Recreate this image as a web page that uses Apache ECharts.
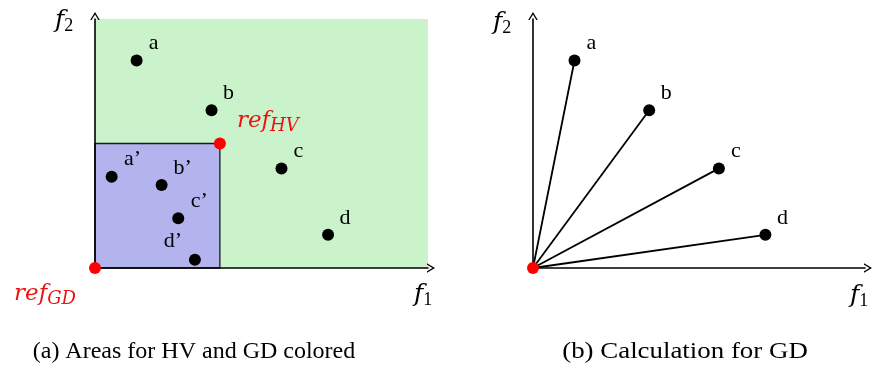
<!DOCTYPE html>
<html>
<head>
<meta charset="utf-8">
<script src="https://cdn.jsdelivr.net/npm/echarts@6/dist/echarts.min.js"></script>
<style>
  html, body { margin: 0; padding: 0; background: #fff; }
  #chart { width: 875px; height: 369px; }
</style>
</head>
<body>
<div id="chart"></div>
<script>
// objective space points (same set used in both panels)
const pointNames = ['a', 'b', 'c', 'd']
const pointX = [1.25, 3.5, 5.6, 7.0]
const pointY = [6.25, 4.75, 3.0, 1.0]

// points dominating the HV reference
const primeNames = ['a’', 'b’', 'c’', 'd’']
const primeX = [0.5, 2.0, 2.5, 3.0]
const primeY = [2.75, 2.5, 1.5, 0.25]

const refHV = [3.75, 3.75]
const refGD = [0, 0]
const axisMax = [10, 7.5]

const captions = ['(a) Areas for HV and GD colored', '(b) Calculation for GD']

const serif = '"Liberation Serif", "DejaVu Serif", serif'
const mathFont = '"DejaVu Serif", serif'
// open arrow head like tikz "->"
const chevron = 'path://M0,10 L6,0 L12,10 L10.2,10 L6,3.2 L1.8,10 Z'

const chart = echarts.init(document.getElementById('chart'), null, { renderer: 'canvas' })

const axisBase = (gridIndex, max) => ({
  type: 'value',
  gridIndex,
  min: 0,
  max,
  z: 4,
  axisLine: {
    show: true,
    symbol: ['none', chevron],
    symbolSize: [12, 8],
    symbolOffset: [0, 3],
    lineStyle: { color: '#000', width: 1.6 }
  },
  axisTick: { show: false },
  axisLabel: { show: false },
  splitLine: { show: false }
})

const fRich = {
  i: { fontFamily: mathFont, fontStyle: 'italic', fontSize: 25, color: '#000', lineHeight: 30, verticalAlign: 'middle' },
  s: { fontFamily: serif, fontSize: 18, color: '#000', lineHeight: 18, verticalAlign: 'bottom' }
}
const refRich = {
  i: { fontFamily: mathFont, fontStyle: 'italic', fontSize: 23, color: '#ee1111', lineHeight: 28, verticalAlign: 'middle' },
  s: { fontFamily: mathFont, fontStyle: 'italic', fontSize: 18, color: '#ee1111', lineHeight: 16, verticalAlign: 'bottom' }
}

const dotLabel = (offset) => ({
  show: true,
  position: 'inside',
  offset,
  formatter: '{b}',
  fontFamily: serif,
  fontSize: 22,
  color: '#000'
})

const dotStyle = { color: '#000', opacity: 1 }
const redStyle = { color: '#ff0000', opacity: 1 }

const mainPoints = pointNames.map((n, i) => ({ name: n, value: [pointX[i], pointY[i]] }))
const primePoints = primeNames.map((n, i) => ({
  name: n,
  value: [primeX[i], primeY[i]],
  label: i === 3 ? { offset: [-22, -18] } : undefined
}))

const series = [
  // panel (a): areas
  {
    type: 'scatter',
    xAxisIndex: 0,
    yAxisIndex: 0,
    data: [],
    silent: true,
    markArea: {
      silent: true,
      data: [
        [{ coord: [0, 0], itemStyle: { color: '#caf2cb', borderWidth: 0, opacity: 1 } }, { coord: axisMax }],
        [{ coord: refGD, itemStyle: { color: '#b3b3ee', borderColor: '#1a1a1a', borderWidth: 1.3, opacity: 1 } }, { coord: refHV }]
      ]
    }
  },
  {
    type: 'scatter',
    xAxisIndex: 0,
    yAxisIndex: 0,
    symbolSize: 12,
    itemStyle: dotStyle,
    label: dotLabel([17, -17]),
    data: mainPoints,
    z: 5
  },
  {
    type: 'scatter',
    xAxisIndex: 0,
    yAxisIndex: 0,
    symbolSize: 12,
    itemStyle: dotStyle,
    label: dotLabel([21, -17]),
    data: primePoints,
    z: 5
  },
  {
    type: 'scatter',
    xAxisIndex: 0,
    yAxisIndex: 0,
    symbolSize: 12,
    itemStyle: redStyle,
    data: [
      { value: refHV, label: { show: true, position: 'inside', offset: [48, -22], formatter: '{i|ref}{s|HV}', rich: refRich } },
      { value: refGD, label: { show: true, position: 'inside', offset: [-50, 26], formatter: '{i|ref}{s|GD}', rich: refRich } }
    ],
    z: 6
  }
]

// panel (b): segments from the origin to each point
pointNames.forEach((n, i) => {
  series.push({
    type: 'line',
    xAxisIndex: 1,
    yAxisIndex: 1,
    symbol: 'none',
    lineStyle: { color: '#000', width: 1.8 },
    data: [refGD, [pointX[i], pointY[i]]],
    silent: true,
    z: 3
  })
})
series.push({
  type: 'scatter',
  xAxisIndex: 1,
  yAxisIndex: 1,
  symbolSize: 12,
  itemStyle: dotStyle,
  label: dotLabel([17, -17]),
  data: mainPoints.map(p => ({ name: p.name, value: p.value })),
  z: 5
})
series.push({
  type: 'scatter',
  xAxisIndex: 1,
  yAxisIndex: 1,
  symbolSize: 12,
  itemStyle: redStyle,
  data: [refGD],
  z: 6
})

const option = {
  animation: false,
  grid: [
    { left: 95, top: 19, width: 333, height: 249 },
    { left: 533, top: 19, width: 332, height: 249 }
  ],
  xAxis: [axisBase(0, axisMax[0]), axisBase(1, axisMax[0])],
  yAxis: [axisBase(0, axisMax[1]), axisBase(1, axisMax[1])],
  graphic: [
    { type: 'text', left: 55, top: 8, style: { text: '{i|f}{s|2}', rich: fRich } },
    { type: 'text', left: 414, top: 282, style: { text: '{i|f}{s|1}', rich: fRich } },
    { type: 'text', left: 493, top: 10, style: { text: '{i|f}{s|2}', rich: fRich } },
    { type: 'text', left: 850, top: 283, style: { text: '{i|f}{s|1}', rich: fRich } },
    { type: 'text', x: 194, y: 352, style: { text: captions[0], fontFamily: serif, fontSize: 24, fill: '#000', align: 'center', verticalAlign: 'middle' } },
    { type: 'text', x: 685, y: 352, scaleX: 1.12, originX: 0, style: { text: captions[1], fontFamily: serif, fontSize: 24, fill: '#000', align: 'center', verticalAlign: 'middle' } }
  ],
  series
}

chart.setOption(option)
</script>
</body>
</html>
